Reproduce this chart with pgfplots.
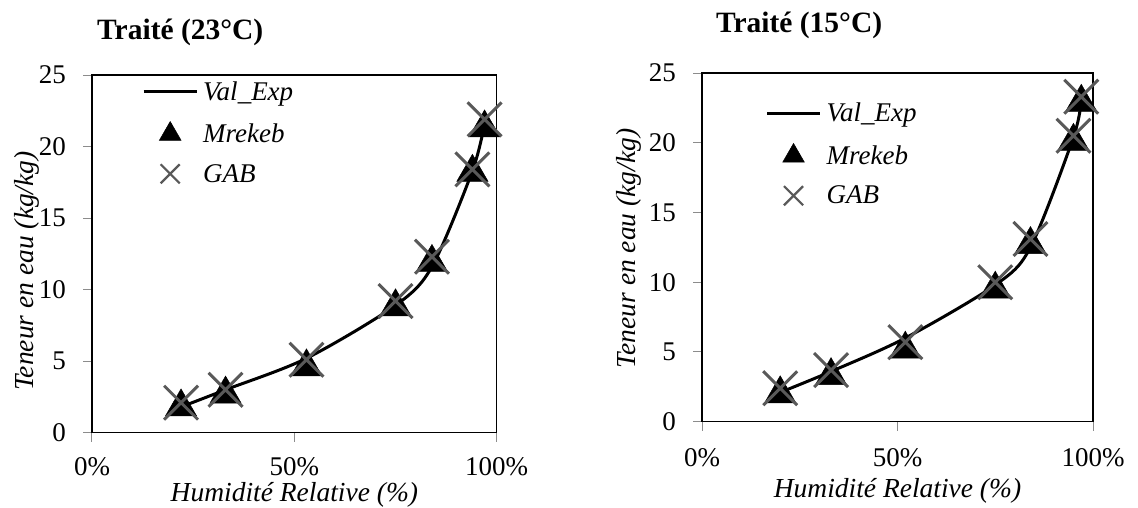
\documentclass[border=0pt]{standalone}
\usepackage{fontspec}
\setmainfont{Liberation Serif}
\usepackage{pgfplots}
\pgfplotsset{compat=1.18}
\definecolor{xgray}{RGB}{89,89,89}
\definecolor{tickgray}{RGB}{140,140,140}
\newcommand{\tickfont}{\fontsize{27}{30}\selectfont}
\newcommand{\labfont}{\fontsize{27.5}{31}\selectfont\itshape}
\newcommand{\legfont}{\fontsize{27}{31}\selectfont\itshape}
\newcommand{\titfont}{\fontsize{29.5}{33}\selectfont\bfseries}
\pgfplotsset{
  mystyle/.style={
    scale only axis,
    xmin=0, xmax=100, ymin=0, ymax=25,
    xtick={0,50,100}, xticklabels={0\%,50\%,100\%},
    ytick={0,5,10,15,20,25},
    tick align=outside, xtick pos=bottom, ytick pos=left,
    major tick length=9pt,
    tick style={tickgray, line width=1pt},
    axis line style={black, line width=1.5pt},
    ticklabel style={font=\tickfont},
    /pgf/number format/assume math mode=true,
    xticklabel style={anchor=base, yshift=-35.5pt, inner sep=0pt},
    yticklabel style={anchor=east, inner sep=0pt, xshift=-17pt},
    label style={font=\labfont},
    title style={font=\titfont, anchor=base west, inner sep=0pt, yshift=-6pt},
    xlabel style={anchor=base, inner sep=0pt},
    ylabel style={anchor=center, inner sep=0pt},
    legend style={draw=none, fill=none, font=\legfont, anchor=north west,
      row sep=20pt, column sep=5pt, inner sep=0pt, nodes={inner sep=0pt}},
    legend cell align=left,
    clip=false,
  },
  valexp/.style={black, line width=3pt, smooth, tension=0.5, no markers,
    legend image code/.code={\draw[black, line width=3pt] (0pt,0pt) -- (53pt,0pt);}},
  mrekeb/.style={only marks, mark=triangle*, mark size=18pt,
    mark options={fill=black, draw=black, line width=0.5pt},
    legend image code/.code={\path (0pt,0pt) (53pt,0pt);
      \draw[mark size=12.5pt] plot coordinates {(26.5pt,0pt)};}},
  gab/.style={only marks, mark=x, mark size=24pt,
    mark options={draw=xgray, line width=3pt},
    legend image code/.code={\path (0pt,0pt) (53pt,0pt);
      \draw[mark size=13.5pt, mark options={draw=xgray, line width=2.2pt}] plot coordinates {(26.5pt,0pt)};}},
}
\begin{document}
\begin{tikzpicture}
\useasboundingbox (0,0) rectangle (1138pt,507pt);
% Left chart
\begin{axis}[mystyle,
  at={(92pt,74.3pt)}, anchor=south west,
  width=404.7pt, height=357.7pt,
  title={Traité (23°C)},
  title style={at={(axis description cs:0.0124,1.098)}},
  xticklabel style={yshift=2pt},
  xlabel={Humidité Relative (\%)},
  xlabel style={at={(axis description cs:0.5,-0.191)}},
  ylabel={Teneur en eau (kg/kg)},
  ylabel style={at={(axis description cs:-0.1606,0.452)}},
  legend style={at={(axis description cs:0.1236,0.983)}},
]
\addplot[valexp] coordinates {(22,1.8) (33,3.0) (53,5.2) (75,8.9) (84,11.6) (94,18.3) (97,21.6)};
\addlegendentry{Val\_Exp}
\addplot[mrekeb] coordinates {(22,1.8) (33,2.7) (53,4.6) (75,8.8) (84,11.9) (94,18.2) (97,21.3)};
\addlegendentry{Mrekeb}
\addplot[gab] coordinates {(22,2.1) (33,3.0) (53,5.1) (75,9.2) (84,12.3) (94,18.4) (97,21.9)};
\addlegendentry{GAB}
\end{axis}
% Right chart
\begin{axis}[mystyle,
  at={(702pt,85.3pt)}, anchor=south west,
  width=391pt, height=348.7pt,
  title={Traité (15°C)},
  title style={at={(axis description cs:0.0355,1.115)}},
  xlabel={Humidité Relative (\%)},
  xlabel style={at={(axis description cs:0.5,-0.216)}},
  ylabel={Teneur en eau (kg/kg)},
  ylabel style={at={(axis description cs:-0.188,0.497)}},
  legend style={at={(axis description cs:0.162,0.914)}},
]
\addplot[valexp] coordinates {(20,2.1) (33,3.6) (52,6.0) (75,9.8) (84,12.5) (95,20.4) (97,23.1)};
\addlegendentry{Val\_Exp}
\addplot[mrekeb] coordinates {(20,2.0) (33,3.3) (52,5.2) (75,9.5) (84,12.7) (95,20.1) (97,22.9)};
\addlegendentry{Mrekeb}
\addplot[gab] coordinates {(20,2.4) (33,3.7) (52,5.7) (75,10.0) (84,13.1) (95,20.5) (97,23.3)};
\addlegendentry{GAB}
\end{axis}
\end{tikzpicture}
\end{document}
